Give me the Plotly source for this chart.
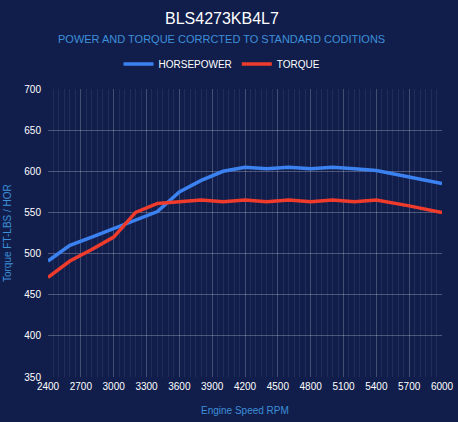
import plotly.graph_objects as go

# RPM points and readings taken off the chart
rpm = [2400, 2600, 2800, 3000, 3200, 3400, 3600, 3800, 4000, 4200,
       4400, 4600, 4800, 5000, 5200, 5400, 5700, 6000]
horsepower = [491, 510, 520, 530, 541, 551, 575, 589, 600, 605,
              603, 605, 603, 605, 603, 601, 593, 585]
torque = [471, 491, 505, 520, 550, 561, 563, 565, 563, 565,
          563, 565, 563, 565, 563, 565, 558, 550]

x_ticks = list(range(2400, 6001, 300))
y_ticks = list(range(350, 701, 50))

bg = '#111e4c'
blue_txt = '#3d8fd8'
mid = 0.4416  # header items are centred a little left of the plot middle

fig = go.Figure()
fig.add_trace(go.Scatter(x=rpm, y=horsepower, mode='lines', name='HORSEPOWER',
                         line=dict(color='#3b82f0', width=3.5)))
fig.add_trace(go.Scatter(x=rpm, y=torque, mode='lines', name='TORQUE',
                         line=dict(color='#ef3b2c', width=3.5)))

fig.update_layout(
    width=458, height=422,
    paper_bgcolor=bg, plot_bgcolor=bg,
    margin=dict(l=48, r=16, t=89, b=45, autoexpand=False),
    font=dict(family='Arial, Liberation Sans, sans-serif', color='white', size=10),
    legend=dict(orientation='h', x=mid, xanchor='center', y=1.087, yanchor='middle',
                font=dict(size=10, color='white'), itemwidth=30, bgcolor='rgba(0,0,0,0)'),
    showlegend=True,
)

# title, subtitle and axis titles placed in paper coordinates
fig.add_annotation(text='BLS4273KB4L7', xref='paper', yref='paper', x=mid, y=1.2465,
                   xanchor='center', yanchor='middle', showarrow=False,
                   font=dict(size=16, color='white'))
fig.add_annotation(text='POWER AND TORQUE CORRCTED TO STANDARD CODITIONS',
                   xref='paper', yref='paper', x=mid, y=1.1736, xanchor='center', yanchor='middle',
                   showarrow=False, font=dict(size=11, color=blue_txt))
fig.add_annotation(text='Engine Speed RPM', xref='paper', yref='paper', x=0.5, y=-0.115,
                   xanchor='center', yanchor='middle', showarrow=False,
                   font=dict(size=10, color=blue_txt))
fig.add_annotation(text='Torque FT-LBS / HOR', xref='paper', yref='paper', x=-0.104, y=0.5,
                   xanchor='center', yanchor='middle', showarrow=False, textangle=-90,
                   font=dict(size=10, color=blue_txt))

fig.update_xaxes(
    range=[2400, 6000], tickvals=x_ticks, ticktext=[str(v) for v in x_ticks],
    showgrid=True, gridcolor='rgba(255,255,255,0.16)', gridwidth=1,
    minor=dict(dtick=50, tick0=2400, showgrid=True, gridcolor='rgba(255,255,255,0.07)', gridwidth=1),
    zeroline=False, showline=False, ticks='', ticklabelstandoff=2, automargin=False,
    tickfont=dict(size=10, color='white'),
)
fig.update_yaxes(
    range=[350, 700], tickvals=y_ticks,
    showgrid=True, gridcolor='rgba(255,255,255,0.25)', gridwidth=1,
    zeroline=False, showline=False, ticks='', ticklabelstandoff=6, automargin=False,
    tickfont=dict(size=10, color='white'),
)

# drop the default body margin so the figure sits at the window's corner
fig.write_html("out.html", config={'displayModeBar': False},
               post_script="document.body.style.margin='0';document.body.style.background='%s';" % bg)
